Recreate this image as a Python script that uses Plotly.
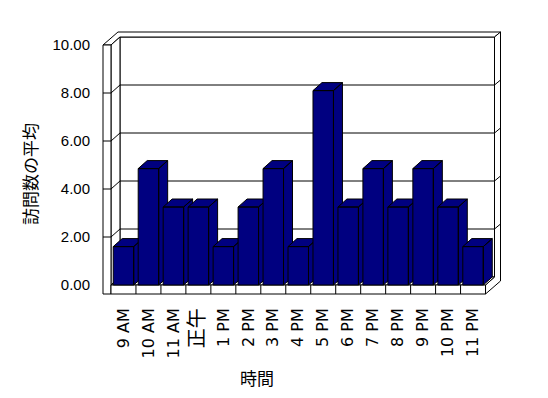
import plotly.graph_objects as go

# ---- data ----
categories = ["9 AM", "10 AM", "11 AM", "正午", "1 PM", "2 PM", "3 PM", "4 PM",
              "5 PM", "6 PM", "7 PM", "8 PM", "9 PM", "10 PM", "11 PM"]
values = [1.6, 4.85, 3.25, 3.25, 1.6, 3.25, 4.85, 1.6,
          8.1, 3.25, 4.85, 3.25, 4.85, 3.25, 1.6]
y_tick_values = [0, 2, 4, 6, 8, 10]
y_tick_labels = ["0.00", "2.00", "4.00", "6.00", "8.00", "10.00"]
x_title = "時間"
y_title = "訪問数の平均"

# ---- geometry (in axis units) ----
W, H = 548, 398
ML, MT, MB = 101, 27, 101
XR = [-0.9, 15.2]
YR = [-0.5, 10.75]
PXX = 25.0  # px per x unit
MR = W - ML - (XR[1] - XR[0]) * PXX
n = len(categories)
xL, xR = -0.5, n - 0.5
ymax = y_tick_values[-1]
Dx, Dy = 9 / 25, 8 / 24      # depth of floor
Tx, Ty = 6 / 25, 5 / 24      # back wall thickness
Lw = 8 / 25                  # left wall thickness
F = 9 / 24                   # floor thickness
BW = 0.82                    # bar width

NAVY = "#000080"
LINE = dict(color="black", width=1)


def path(pts):
    return "M " + " L ".join(f"{x},{y}" for x, y in pts) + " Z"


shapes = []


def poly(pts, fill="white"):
    shapes.append(dict(type="path", xref="x", yref="y", path=path(pts),
                       fillcolor=fill, line=LINE, layer="below"))


def seg(p, q):
    shapes.append(dict(type="line", xref="x", yref="y", x0=p[0], y0=p[1],
                       x1=q[0], y1=q[1], line=LINE, layer="below"))


# back wall inner face
poly([(xL + Dx, Dy), (xR + Dx, Dy), (xR + Dx, ymax + Dy), (xL + Dx, ymax + Dy)])
# top of walls
poly([(xL - Lw, ymax), (xL - Lw + Dx + Tx, ymax + Dy + Ty), (xR + Dx + Tx, ymax + Dy + Ty),
      (xR + Dx, ymax + Dy), (xL + Dx, ymax + Dy), (xL, ymax)])
# right side face (floor + back wall)
poly([(xR, -F), (xR + Dx + Tx, -F + Dy + Ty), (xR + Dx + Tx, ymax + Dy + Ty),
      (xR + Dx, ymax + Dy), (xR + Dx, Dy), (xR, 0)])
# left wall inner face
poly([(xL, 0), (xL + Dx, Dy), (xL + Dx, ymax + Dy), (xL, ymax)])
# left wall front face
poly([(xL - Lw, -F), (xL, -F), (xL, ymax), (xL - Lw, ymax)])
# floor top
poly([(xL, 0), (xR, 0), (xR + Dx, Dy), (xL + Dx, Dy)])
# floor front
poly([(xL, -F), (xR, -F), (xR, 0), (xL, 0)])
for k in range(1, n):
    seg((xL + k, -F), (xL + k, 0))
# gridlines
for v in y_tick_values[1:-1]:
    seg((xL - Lw, v), (xL, v))
    seg((xL, v), (xL + Dx, v + Dy))
    seg((xL + Dx, v + Dy), (xR + Dx, v + Dy))
    seg((xR + Dx, v + Dy), (xR + Dx + Tx, v + Dy + Ty))

fig = go.Figure()

# bars (front, top, side faces)
for i, v in enumerate(values):
    x0, x1 = i - BW / 2, i + BW / 2
    faces = [
        [(x0, 0), (x1, 0), (x1, v), (x0, v), (x0, 0)],
        [(x0, v), (x1, v), (x1 + Dx, v + Dy), (x0 + Dx, v + Dy), (x0, v)],
        [(x1, 0), (x1 + Dx, Dy), (x1 + Dx, v + Dy), (x1, v), (x1, 0)],
    ]
    xs, ys = [], []
    for f in faces:
        xs += [p[0] for p in f] + [None]
        ys += [p[1] for p in f] + [None]
    fig.add_trace(go.Scatter(x=xs, y=ys, mode="lines", fill="toself",
                             fillcolor=NAVY, line=LINE, hoverinfo="skip",
                             showlegend=False))

FONT = "Liberation Sans, Arial, Noto Sans CJK JP, sans-serif"
XFONT = "DejaVu Sans, Noto Sans CJK JP, sans-serif"
JFONT = "Noto Sans CJK JP, sans-serif"


def xlabel(c):
    if any(ord(ch) > 0x2E80 for ch in c):
        return f'<span style="font-size:20px">{c}</span>'
    return c


fig.update_layout(
    width=W, height=H,
    margin=dict(l=ML, r=MR, t=MT, b=MB, pad=0),
    paper_bgcolor="white", plot_bgcolor="white",
    shapes=shapes,
    showlegend=False,
    font=dict(family=FONT, size=15, color="black"),
    xaxis=dict(range=XR, showgrid=False, zeroline=False, showline=False,
               tickmode="array", tickvals=list(range(n)),
               ticktext=[xlabel(c) for c in categories],
               tickangle=-90, ticks="", ticklabelstandoff=7,
               tickfont=dict(family=XFONT, size=16, color="black"),
               fixedrange=True),
    yaxis=dict(range=YR, showgrid=False, zeroline=False, showline=False,
               tickmode="array", tickvals=y_tick_values, ticktext=y_tick_labels,
               ticks="", ticklabelstandoff=10,
               tickfont=dict(family=FONT, size=15, color="black"),
               fixedrange=True),
    annotations=[
        dict(text=x_title, xref="paper", yref="paper",
             x=(257 - ML) / (W - ML - MR), y=(H - MB - 377) / (H - MT - MB),
             xanchor="center", yanchor="middle", showarrow=False,
             font=dict(family=JFONT, size=17, color="black")),
        dict(text=y_title, xref="paper", yref="paper",
             x=(29 - ML) / (W - ML - MR), y=(H - MB - 174) / (H - MT - MB),
             xanchor="center", yanchor="middle", showarrow=False, textangle=-90,
             font=dict(family=JFONT, size=17, color="black")),
    ],
)

fig.write_html("out.html")
